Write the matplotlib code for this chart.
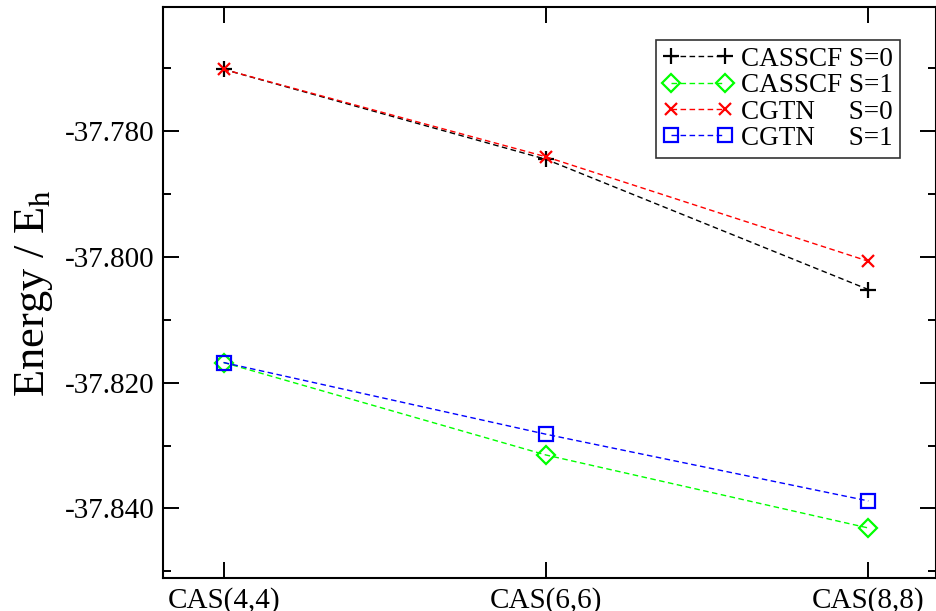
import matplotlib
matplotlib.use("Agg")
import matplotlib.pyplot as plt
from matplotlib.ticker import MultipleLocator

plt.rcParams['font.family'] = ['Liberation Serif', 'DejaVu Serif']
plt.rcParams['mathtext.fontset'] = 'stix'

# datos
labels = ['CAS(4,4)', 'CAS(6,6)', 'CAS(8,8)']
casscf_s0 = [-37.7702, -37.7845, -37.8052]
casscf_s1 = [-37.8168, -37.8315, -37.8431]
cgtn_s0 = [-37.7702, -37.7841, -37.8007]
cgtn_s1 = [-37.8168, -37.8282, -37.8388]

x = list(range(len(labels)))

fig = plt.figure(figsize=(9.36, 6.11), dpi=100)
ax = fig.add_axes([0.1738, 0.0535, 0.8262, 0.935])

ax.plot(x, casscf_s0, ls='--', lw=1.0, color='black', marker='+', ms=12, mew=1.6,
        label='CASSCF S=0', dashes=(4, 2.5))
ax.plot(x, casscf_s1, ls='--', lw=1.0, color='#00ff00', marker='D', ms=9, mew=1.6,
        mfc='none', label='CASSCF S=1', dashes=(4, 2.5))
ax.plot(x, cgtn_s0, ls='--', lw=1.0, color='red', marker='x', ms=8.5, mew=1.6,
        label='CGTN     S=0', dashes=(4, 2.5))
ax.plot(x, cgtn_s1, ls='--', lw=1.0, color='blue', marker='s', ms=10.5, mew=1.6,
        mfc='none', label='CGTN     S=1', dashes=(4, 2.5))

ax.set_xlim(-0.189, 2.21)
ax.set_ylim(-37.8511, -37.7603)
ax.set_xticks(x)
ax.set_xticklabels(labels)
ax.yaxis.set_major_locator(MultipleLocator(0.02))
ax.yaxis.set_minor_locator(MultipleLocator(0.01))
ax.yaxis.set_major_formatter(matplotlib.ticker.FormatStrFormatter('%.3f'))

ax.tick_params(which='both', direction='in', top=True, right=True, width=1.4,
               labelsize=21)
ax.tick_params(which='major', length=11.5, pad=6)
ax.tick_params(which='minor', length=5.5)
for s in ax.spines.values():
    s.set_linewidth(1.5)

ax.set_ylabel('Energy / E$_\\mathrm{h}$', fontsize=32, labelpad=7)

leg = ax.legend(loc='upper right', bbox_to_anchor=(0.953, 0.9422), numpoints=2,
                fontsize=19.5, frameon=True, fancybox=False, edgecolor='black',
                handlelength=2.6, handletextpad=0.3, borderpad=0.25,
                labelspacing=0.05, borderaxespad=0)
leg.get_frame().set_linewidth(1.2)

fig.savefig('out.png', dpi=100)
